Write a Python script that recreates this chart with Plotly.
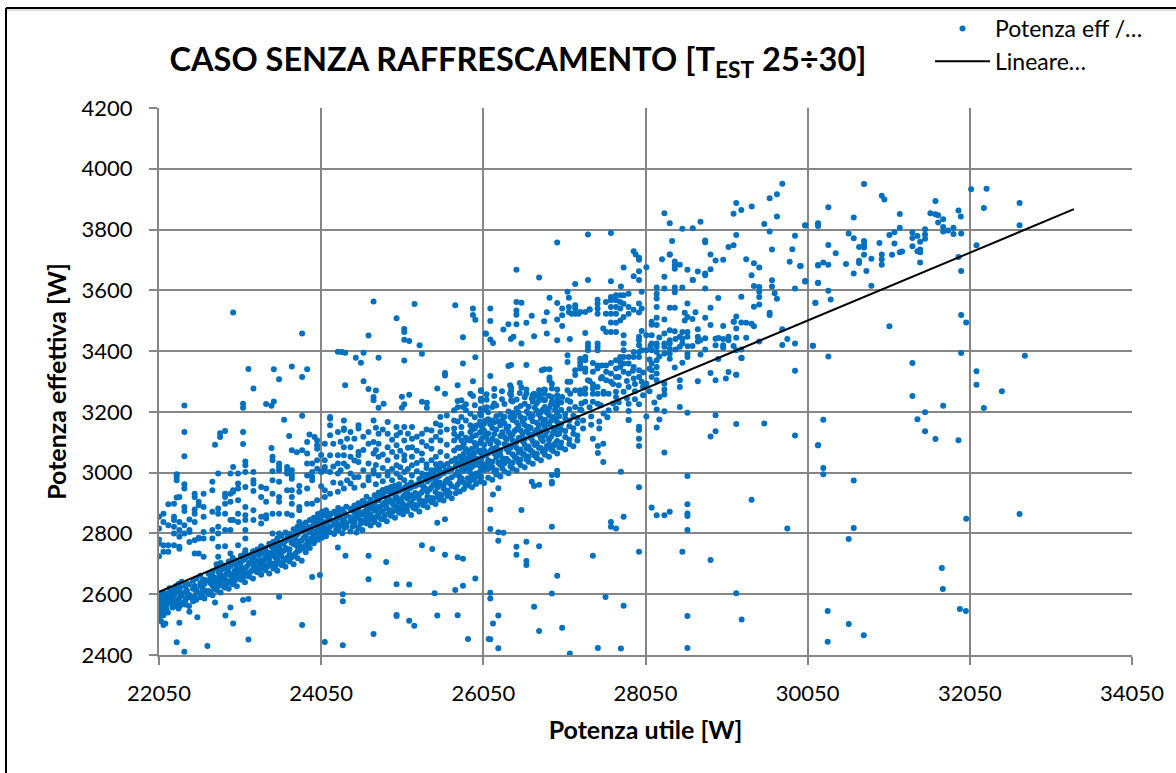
import plotly.graph_objects as go

# Each entry: (Potenza utile [W], [Potenza effettiva [W], ...]).
band_left = [
 (22050,[2525,2540,2552,2565,2578,2590,2602]),(22075,[2512,2550,2574,2590,2597]),(22105,[2535,2568,2581,2606]),
 (22140,[2550,2563,2594]),(22180,[2572,2588,2601,2620]),(22215,[2556,2579,2584,2612]),(22255,[2561,2577,2609,2626]),
 (22290,[2553,2574,2583,2611,2634]),(22330,[2572,2596,2603,2641]),(22375,[2566,2579,2608,2627]),(22420,[2561,2590,2598,2633]),
 (22470,[2577,2585,2618,2644]),(22510,[2582,2606,2613,2652]),(22560,[2590,2603,2628,2637,2661]),(22610,[2586,2612,2634,2648]),
 (22660,[2601,2611,2645,2668]),(22710,[2597,2628,2651,2662,2676]),(22760,[2614,2623,2641,2685,2699]),(22810,[2606,2637,2664,2677,2703]),
 (22860,[2622,2651,2660,2694]),(22910,[2618,2643,2672,2688,2708]),(22960,[2633,2655,2666,2701,2719]),(23010,[2626,2664,2683,2692,2711]),
 (23060,[2648,2659,2691,2706,2727]),(23110,[2639,2671,2684,2715,2736]),(23160,[2658,2669,2702,2724]),(23210,[2652,2682,2697,2718,2741]),
 (23260,[2672,2688,2709,2731,2747]),(23310,[2664,2699,2712,2738,2758]),(23360,[2679,2693,2725,2751]),(23410,[2668,2706,2718,2735,2766]),
 (23460,[2685,2701,2729,2744,2773]),(23510,[2677,2711,2739,2759,2784]),(23560,[2696,2723,2737,2768,2792]),(23610,[2690,2716,2752,2776,2803]),
 (23660,[2708,2733,2748,2781,2798]),(23710,[2699,2727,2765,2789,2814]),(23760,[2718,2741,2757,2797,2822]),(23810,[2710,2755,2778,2806,2829]),
 (23860,[2738,2762,2791,2813,2836]),(23910,[2752,2771,2804,2821,2844]),(23960,[2768,2786,2798,2833,2852]),(24010,[2779,2793,2817,2847,2864]),
 (24060,[2786,2808,2826,2841,2871]),
]
band_mid = [
 (24110,[2791,2815,2835,2858,2876]),(24160,[2804,2823,2844,2861]),(24210,[2798,2829,2839,2871]),(24260,[2810,2818,2852,2867,2884]),
 (24310,[2801,2835,2846,2879]),(24360,[2822,2831,2859,2888]),(24410,[2806,2841,2853,2881]),(24460,[2827,2838,2869,2892]),
 (24510,[2817,2849,2873,2886,2899]),(24560,[2811,2843,2862,2894,2907]),(24610,[2833,2856,2877,2891,2921]),(24660,[2826,2861,2883,2911]),
 (24710,[2838,2851,2875,2902,2926]),(24760,[2829,2866,2887,2909,2935]),(24810,[2847,2871,2896,2923,2943]),(24860,[2840,2883,2899,2917,2948]),
 (24910,[2858,2876,2906,2931,2953]),(24960,[2852,2891,2912,2928,2957]),(25010,[2868,2886,2904,2939,2962]),(25060,[2863,2897,2921,2946]),
 (25110,[2874,2889,2915,2936,2959]),(25160,[2861,2901,2926,2951,2968]),(25210,[2881,2894,2933,2956]),(25260,[2872,2911,2928,2961,2979]),
 (25310,[2893,2906,2942,2955,2988]),(25360,[2886,2921,2937,2971,2994]),(25410,[2903,2917,2952,2983,3001]),(25460,[2897,2936,2961,2975,3009]),
 (25510,[2912,2929,2968,2991,3017]),(25560,[2908,2947,2959,2998,3024]),(25610,[2923,2941,2978,3004,3029]),(25660,[2916,2956,2985,3011,3038]),
 (25710,[2932,2951,2993,3021,3046]),(25760,[2938,2972,2987,3027,3053,3081]),(25810,[2946,2967,3006,3033,3062,3096]),(25860,[2958,2982,3014,3043,3071,3108]),
 (25910,[2952,2991,3019,3051,3079,3117,3141]),(25960,[2963,2997,3026,3047,3087,3123,3155]),(26010,[2971,3003,3035,3066,3098,3132,3168,3194]),
 (26060,[2966,3009,3028,3073,3091,3138,3161,3207]),
]
band_right = [
 (26110,[2983,3012,3041,3064,3106,3129,3176,3199]),(26160,[2977,3019,3036,3079,3112,3147,3172,3216]),(26210,[2994,3008,3049,3083,3103,3142,3186,3221]),
 (26260,[2987,3026,3057,3074,3121,3156,3191]),(26310,[3004,3031,3046,3094,3117,3163,3184,3226]),(26360,[2998,3038,3068,3089,3134,3152,3201]),
 (26410,[3013,3033,3061,3107,3126,3173,3196,3234]),(26460,[3007,3047,3081,3101,3143,3166,3211,3241]),(26510,[3024,3043,3076,3116,3139,3183,3219]),
 (26560,[3018,3058,3092,3111,3157,3178,3227,3248]),(26610,[3036,3053,3086,3128,3151,3194,3217]),(26660,[3029,3067,3103,3124,3169,3188,3233,3256]),
 (26710,[3048,3062,3097,3141,3164,3204,3229]),(26760,[3041,3081,3113,3136,3179,3199,3243]),(26810,[3059,3074,3122,3151,3174,3216,3239,3272]),
 (26860,[3052,3093,3108,3159,3189,3211,3253]),(26910,[3071,3088,3131,3148,3183,3226]),(26960,[3063,3104,3126,3167,3197,3221]),
 (27010,[3083,3099,3142,3161,3206,3231]),(27060,[3076,3117,3137,3178,3193]),(27110,[3094,3109,3153,3172,3209]),(27160,[3087,3128,3146,3187]),
 (27210,[3106,3122,3163,3181]),
]
band_extra = [
 (26035,[3016,3052,3113,3149]),(26085,[3023,3058,3121,3172]),(26135,[3029,3071,3096,3159]),(26185,[3004,3063,3127,3166]),
 (26235,[3033,3069,3098,3168]),(26285,[3014,3042,3133,3173]),(26335,[3046,3078,3109,3147]),(26385,[3021,3082,3118,3183]),
 (26435,[3052,3091,3137,3186]),(26485,[3034,3066,3114,3154,3198]),(26535,[3062,3103,3129,3169]),(26585,[3043,3079,3138,3201]),
 (26635,[3073,3114,3147,3181]),(26685,[3056,3091,3133,3214]),(26735,[3082,3126,3154,3191]),(26785,[3068,3104,3162,3208]),
 (26835,[3088,3136,3159,3197]),(26885,[3077,3118,3171,3224]),(26935,[3096,3142,3176,3208]),(26985,[3084,3128,3152,3186]),
 (25735,[2961,3003,3031]),(25785,[2981,3012,3042]),(25835,[2961,3023,3047]),(25885,[2972,3002,3058]),(25935,[2978,3033,3064]),(25985,[2988,3028,3072]),
 (24085,[2799,2833,2861]),(24285,[2826,2858]),(24485,[2803,2858,2882]),(24685,[2846,2891]),(24885,[2866,2913,2938]),(25085,[2881,2928,2952]),
 (25285,[2899,2934,2966]),(25485,[2921,2952,2987]),(25635,[2933,2965,3012]),(23885,[2757,2778,2818]),(23685,[2722,2769,2792]),
 (23485,[2694,2721,2752]),(23285,[2679,2703,2729]),(23085,[2654,2678,2712]),(22885,[2634,2668,2684]),(22685,[2607,2636,2658]),
]
band_fill = [
 (22090,[2558,2577,2600]),(22160,[2540,2578,2603]),(22235,[2566,2596,2618]),(22310,[2562,2592,2622]),(22395,[2588,2612,2634]),(22490,[2592,2627]),
 (22585,[2596,2618,2643]),(22735,[2618,2636,2654]),(22785,[2628,2654,2672]),(22835,[2628,2648,2684]),(22935,[2640,2662,2694]),(22985,[2645,2678,2708]),
 (23035,[2655,2672,2698]),(23135,[2662,2692,2726]),(23185,[2676,2708,2731]),(23235,[2678,2712,2735]),(23335,[2686,2708,2744]),(23385,[2690,2716,2738]),
 (23435,[2696,2728,2758]),(23535,[2702,2728,2752]),(23585,[2708,2742,2768]),(23635,[2722,2748,2786]),(23735,[2735,2762,2782,2808]),(23785,[2745,2772,2810]),
 (23835,[2752,2786,2818]),(23935,[2785,2812,2846]),(23985,[2782,2806,2838]),(24035,[2798,2828,2856]),(24135,[2806,2842,2866]),(24235,[2812,2835,2862]),
 (24335,[2818,2842,2868]),(24435,[2822,2848,2876]),(24535,[2832,2868,2892]),(24585,[2838,2872,2902]),(24635,[2842,2868,2898]),(24735,[2855,2882,2915]),
 (24785,[2848,2885,2922]),(24835,[2858,2902,2936]),(24935,[2872,2896,2942]),(24985,[2878,2918,2948]),(25035,[2878,2908,2945]),(25135,[2896,2925,2948]),
 (25185,[2885,2915,2958]),(25235,[2892,2922,2962]),(25335,[2905,2948,2982]),(25385,[2912,2945,2978]),(25435,[2915,2962,2992]),(25535,[2925,2958,2998]),
 (25585,[2935,2972,3008]),
]
cloud_fill = [
 (24050,[3058,3002,2955]),(24200,[3095,3020,2968]),(24290,[3102,3008,2965]),(24370,[3112,3020,2975]),(24460,[3112,3040,2985,2950]),
 (24570,[3118,3075,3008,2958]),(24725,[3148,3075,3025,2962]),(24810,[3142,3060,3015,2972]),(24925,[3108,3068,3012,2975]),(25025,[3132,3072,3018,2985]),
 (25120,[3128,3082,3012]),(25230,[3118,3072,3032,3005]),(25350,[3142,3088,3028,3015]),(25465,[3162,3118,3052,3028]),(25600,[3188,3142,3092,3055]),
 (25735,[3215,3168,3118,3082]),(25835,[3205,3172,3115,3078,3225]),(25945,[3222,3182,3145,3098]),(26090,[3240,3215,3258]),(26185,[3228,3252,3275]),
 (26280,[3242,3268]),(26380,[3260,3288]),(26500,[3262,3295]),
 (27260,[3205,3228]),(27360,[3215,3302]),(27500,[3222,3310]),(27650,[3228,3292]),(27720,[3232,3315,3288]),(27820,[3245,3302]),(27920,[3268,3292,3242]),
 (28020,[3282,3330,3255]),(28100,[3372,3342,3268]),(28220,[3382,3445]),(28420,[3405,3440]),
 (27280,[3145,3172]),(27380,[3158,3185]),(27480,[3168,3145]),(27580,[3182]),
]
cloud_left = [
 (22105,[2865,2838,2761,2740]),(22165,[2896,2827,2761,2740]),(22235,[2898,2855,2844,2822,2800,2761]),
 (22268,[2995,2986,2975,2918]),(22301,[2838,2811,2789,2756,2750,2920]),(22363,[2962,2948,2887,2874,2827,2800]),
 (22425,[2846,2811,2805,2772]),(22490,[2931,2920,2879,2865,2838,2778,2734]),(22540,[2904,2893,2783,2786,2734]),
 (22600,[2931,2887,2855,2805,2783,2723]),(22708,[2970,2942,2871,2811,2783]),(22780,[2997,2882,2865,2822,2800,2756,2723]),
 (22865,[2931,2920,2898,2865,2811,2758]),(22931,[2997,2904,2931,2844,2811,2734]),(22964,[3019,2942,2937,2844]),
 (23025,[2997,2964,2948,2909,2865,2838,2761]),(23115,[3037,3024,3002,2953,2887,2860,2844,2811,2783,2745]),
 (23215,[3002,2975,2964,2940,2876,2844]),(23310,[2953,2920,2855,2833]),(23371,[2948,2904,2860,2849]),
 (23450,[3041,3052,3005,2975,2931,2865,2800]),(23531,[3030,3019,3008,2970,2920,2904,2865,2800]),
 (23630,[3019,3008,2997,2942,2865]),(23688,[3008,2991,2980,2942,2920,2898,2860]),(23780,[2956,2937,2887,2876,2838]),
 (23877,[3063,3030,2991,2948,2898]),(23939,[3030,3002,2986,2975,2898]),(24000,[3106,3090,3079,3041,3013,2909]),
]
cloud_mid = [
 (24095,[3095,3041,3019,3008,2942,2920]),(24160,[3178,3156,3183,3123,3057,3002,2931,2865]),(24256,[3134,3057,3030,2997,2937]),
 (24330,[3172,3145,3140,3084,3057,3030,2948]),(24412,[3134,3084,3052,2997,2964]),(24510,[3156,3145,3068,3057,3035,2986]),
 (24634,[3134,3095,3030,2986,2975]),(24696,[3172,3101,3063,3008,2997]),(24758,[3128,3095,3052,2991]),
 (24870,[3167,3128,3084,3041,3002,2991]),(24980,[3150,3123,3090,3052,3024,2997]),(25075,[3150,3106,3057,3041,3002,2975]),
 (25170,[3150,3112,3084,3052,3024,2991]),(25293,[3128,3101,3063,3041,2997]),(25410,[3139,3106,3079,3041,3008]),
 (25520,[3183,3156,3134,3106,3068,3030,3002]),(25690,[3205,3172,3145,3128,3106,3073,3041]),
 (25780,[3238,3183,3150,3128,3106,3084,3052]),(25890,[3260,3194,3156,3134,3106,3057,3030]),
 (26020,[3271,3243,3210,3189,3156,3134,3106,3073,3046,3019,2986]),
]
upper_mid = [
 (26392,[3354]),(26581,[3354]),(26359,[3351]),(26136,[3318]),(26771,[3337]),(26804,[3340]),(26866,[3340,3313,3304]),
 (26895,[3293,3277,3249,3233]),(26520,[3280]),(26392,[3280,3269,3255,3238]),(26581,[3274,3260]),(26647,[3244]),
 (26676,[3260,3249]),(26738,[3271,3255,3238]),(26800,[3274,3260,3238]),(26961,[3274,3255,3238]),(27022,[3249]),
 (27088,[3299,3271,3238,3386,3364]),(27122,[3299,3260,3233]),(27183,[3271,3216,3337,3321]),(27245,[3271,3260,3208,3375,3364,3353,3343]),
 (27307,[3277,3260,3233,3381,3370,3343,3332]),(27340,[3425,3414,3403,3304]),(27401,[3291,3277,3260,3233,3361,3332]),
 (27459,[3282,3260,3227,3425,3414,3403,3353,3343]),(27513,[3353,3315]),(27533,[3266,3260,3195]),(27565,[3353,3332,3304]),
 (27595,[3260,3205]),(27624,[3361,3326,3299]),(27686,[3266,3249,3211,3370,3343,3315]),(27739,[3381,3364,3348]),
 (27780,[3266,3452,3425,3403,3381,3359,3332]),(27842,[3282,3381,3359,3326,3173,3203,3227]),(27904,[3397,3381,3348,3310]),
 (27970,[3447,3436,3419,3397,3381,3337,3315,3225]),(28003,[3466,3403,3299]),(28061,[3452,3403,3293,3185]),
 (28126,[3452,3425,3403,3359,3337,3315,3497,3487,2885]),(28188,[3425,3414,3397,3370,3348,3326,3304,3510,3486,3609,3589,3573,3545]),
 (28283,[3425,3414,3392,3504,3606,3458,3645,3854,3257,3274,3293,3202]),(28349,[3436,3425,3408,3392,3375,3469,3543,3718,3821]),
]
cluster_3500 = [
 (27105,[3576,3545,3529]),(27138,[3523]),(27183,[3551,3540,3523,3621]),(27224,[3523]),(27245,[3529]),(27307,[3529,3460]),
 (27361,[3536,3538]),(27459,[3569,3556,3540,3523]),(27562,[3562,3523]),(27624,[3578,3567,3545,3523,3494,3463,3630]),
 (27686,[3584,3567,3545,3523,3493,3463]),(27739,[3584,3562,3540,3501]),(27780,[3584,3556,3512,3675]),
 (27842,[3589,3545,3523]),(27904,[3536,3646,3729]),(27970,[3557,3527,3634,3663,3707,3701]),(28003,[3540,3595]),
 (27929,[3718]),(28061,[3676]),(27747,[3613]),(27340,[3634,3784]),(27088,[3595]),(27529,[3474]),(27565,[3463]),
]
upper_left = [
 (22363,[3221,3134,3054]),(22964,[3527]),(23815,[3458,3315,3187,3074]),(23153,[3341]),(23466,[3340,3234]),(23688,[3349,3074]),
 (23877,[3340,3101]),(23531,[3307]),(23215,[3277]),(23087,[3227,3214,3134,3094]),(23371,[3226]),(23437,[3220,3081]),
 (23593,[3174]),(22803,[3130,3117]),(22865,[3137]),(22741,[3092]),(23655,[3121]),(23750,[3067]),(23906,[3126]),(23968,[3117]),
 (24256,[3398]),(24305,[3397]),(24346,[3395,3288]),(24573,[3395,3301]),(24478,[3378]),(24540,[3362]),(24758,[3378]),
 (25075,[3369,3473,3463,3437]),(24980,[3508]),(25136,[3433]),(25264,[3419]),(25293,[3391]),(24634,[3451,3275]),(24696,[3563,3249,3238]),
 (25202,[3555]),(25704,[3551]),(25922,[3540,3519]),(25951,[3503,3380]),(25799,[3446,3359]),(26083,[3457]),(25577,[3328,3320]),
 (24725,[3270]),(24758,[3214]),(24820,[3227]),(25046,[3250]),(25136,[3256]),(25046,[3214]),(25075,[3225]),
 (25293,[3233]),(25354,[3230,3214]),(25482,[3277]),(25577,[3260]),(25733,[3288,3236]),(25799,[3216]),(25922,[3301,3252]),
 (26020,[3269,3237]),(26136,[3540,3499]),(26075,[3458]),(26136,[3438]),(26169,[3427]),(26297,[3471]),(26359,[3488]),(26458,[3488,3562,3534,3520,3668]),
 (26581,[3493]),(26647,[3516]),(26800,[3498]),(26520,[3559,3425]),(26866,[3576]),(26961,[3558,3504,3436,3757]),(26833,[3528,3458]),
 (27022,[3518,3540,3483]),(26676,[3449]),(26421,[3447]),(26388,[3440]),(27117,[3440]),(26738,[3642]),(27624,[3789]),
]
upper_right = [
 (28505,[3803,3609]),(28633,[3804,3634]),(28728,[3826]),(29169,[3887,3782,3514,3474,3444,3403,3322]),(29136,[3852,3748,3497,3417]),
 (29232,[3864,3494,3579,3405,3377]),(29360,[3876]),(29581,[3903,3794,3526,3519]),(29671,[3916,3843,3572]),(29737,[3951,3472,3420]),
 (29515,[3818]),(30018,[3814,3630]),(30178,[3818,3683,3625]),(29894,[3780,3606,3425,3335,3122]),(28378,[3762]),(28786,[3764,3758,3655,3650,3606,3510,3442,3405]),
 (29074,[3743,3447,3436,3331]),(29610,[3734,3633,3613]),(29861,[3735]),(28349,[3718]),(28852,[3718,3669,3543,3486]),
 (28254,[3702]),(28914,[3698,3441,3419,3304,3189,3136]),(29008,[3701,3483,3440,3419,3411]),(29292,[3702,3493,3444]),(29387,[3689,3614,3546,3482]),
 (29453,[3675,3611,3595,3578,3553,3432]),(29828,[3694]),(29956,[3680]),(28411,[3695,3682,3671,3609,3594,3543,3465,3346]),(28473,[3684,3447,3414,3304,3282]),
 (28567,[3668,3557,3512,3463,3447,3381,3392]),(28695,[3662,3472,3447,3432,3301]),(29358,[3650,3490,2911]),(28633,[3634]),(30018,[3630]),
 (29643,[3590]),(28947,[3575,3374]),(30145,[3559]),(28666,[3528]),(28534,[3526,3501]),(28629,[3506,3417]),(29041,[3310]),(29140,[3497]),
 (29799,[3440,2816]),(28112,[3418]),(28505,[3463,3441,3425,3362]),(28728,[3436,3389]),(28950,[3443]),(28571,[3416]),(28852,[3328]),
 (30112,[3418]),(29236,[3377]),(29169,[3322]),
]
far_right = [
 (30745,[3950,3762,3751,3741,3717]),(30964,[3911,3718,3702,3684]),(30996,[3899]),(30305,[3873,3749,3684,3599,3382]),(31626,[3894,3850,3111]),
 (31186,[3851,3806,3725]),(30618,[3840,3771,3655,2974,2818]),(31564,[3854]),(31659,[3847,3823]),(31721,[3834,3808,3794,3220]),
 (31910,[3863,3710,3107]),(31939,[3843]),(32066,[3933]),(32256,[3934]),(32223,[3871,3213]),(32663,[3887,3814,2864]),
 (30021,[3813,3629]),(30178,[3821,3812,3682,3624,3090]),(30556,[3787,2782]),(31058,[3782,3482]),(31120,[3791,3754]),(31342,[3790,3772,3745,3361,3252]),
 (31404,[3779,3729,3176]),(31437,[3760,3734,3725,3692]),(31498,[3801,3784,3770,3199,3136]),(31782,[3797]),(31848,[3806,3785]),(31943,[3787,3664,3519,3394]),
 (30684,[3743,3697,3690]),(30935,[3756]),(30396,[3722]),(32132,[3748,3334,3289]),(31215,[3728]),(31091,[3717]),(30836,[3704,3615]),(30523,[3687]),
 (30243,[3692,3174,3015,2995]),(29964,[3680]),(30774,[3664]),(30334,[3570]),(30145,[3558]),(32005,[3494,2848]),(30116,[3418]),(32729,[3385]),
 (32445,[3268]),(30297,[2545,2444]),(30557,[2502]),(30742,[2465]),(31705,[2686]),(31717,[2617]),(31927,[2551]),(32001,[2545]),
]
lower_left = [
 (22050,[2725,2767,2780,2816,2855]),(22301,[2506]),(22268,[2442]),(22363,[2411]),(22647,[2430]),(23153,[2451,2584]),(24095,[2443]),
 (24317,[2432,2600,2577]),(24696,[2469]),(25861,[2453]),(26116,[2453]),(23815,[2499]),(25198,[2496]),(25136,[2513,2632]),
 (24980,[2528,2532,2633]),(25482,[2530,2835]),(25733,[2531,2722]),(22964,[2504]),(22869,[2530]),(23215,[2539]),(22931,[2556]),
 (22523,[2524]),(22425,[2542]),(22741,[2573]),(23087,[2581]),(23531,[2592]),(25449,[2603]),(25704,[2614]),(25799,[2628,2717]),
 (25951,[2652]),(24634,[2649,2727]),(23939,[2657]),(24034,[2663]),(24852,[2706]),(24350,[2727]),(24256,[2754]),(25293,[2761]),
 (25420,[2749]),(25577,[2730,2847]),(22105,[2499,2531]),(22128,[2504]),
]
lower_right = [
 (26235,[2422,2530,2776,2804,2949]),(26136,[2452,2605,2586,2815,2879]),(26169,[2504,2928]),(26676,[2559,2956]),(26738,[2479,2758,2960]),
 (27022,[2490]),(26895,[2602,2822,2970,2964,2992]),(27117,[2405]),(27463,[2423,3088,3065]),(27747,[2421,3003]),(27557,[2591]),(27780,[2562,2855]),
 (28567,[2528,2423,2896,2866,2857,2811,2989,3197]),(29169,[2603,3160]),(29236,[2517]),(27970,[2740,3088,3112,3140,3151,2952]),(28505,[2740]),
 (28852,[2713,3119]),(27401,[2727,3112]),(26961,[2661,2992,3006]),(26581,[2709,2696,2773]),(26458,[2756,2730]),(26297,[2802]),
 (27624,[2838,2822]),(27686,[2816]),(28188,[2860,3149,3208]),(28283,[2860,3066]),(28349,[2871]),(26520,[2877]),(26647,[2970]),(27529,[3035,3095]),
 (28221,[3175,3249]),(28473,[3216]),(28159,[3231]),(27842,[3173]),(29515,[3162]),(30178,[3090]),(27894,[3335]),
]

line_x = [22050, 33334]
line_y = [2608, 3867]
x_ticks = [22050, 24050, 26050, 28050, 30050, 32050, 34050]
y_ticks = [2400, 2600, 2800, 3000, 3200, 3400, 3600, 3800, 4000, 4200]

groups = [band_left, band_mid, band_right, band_extra, band_fill, cloud_fill, cloud_left, cloud_mid, upper_mid, cluster_3500,
          upper_left, upper_right, far_right, lower_left, lower_right]
xs, ys = [], []
for group in groups:
    for x, col in group:
        for y in col:
            xs.append(x)
            ys.append(y)

FONT = "Lato"
GRID = "#868686"
fig = go.Figure()
fig.add_trace(go.Scatter(x=xs, y=ys, mode="markers", name="Potenza eff /…",
                         marker=dict(color="#0070C0", size=6, line=dict(width=0))))
fig.add_trace(go.Scatter(x=line_x, y=line_y, mode="lines", name="Lineare…",
                         line=dict(color="black", width=2)))
axis = dict(showline=True, linecolor=GRID, linewidth=2, gridcolor=GRID, gridwidth=2, ticks="outside",
            ticklen=8, tickwidth=2, tickcolor=GRID, tickfont=dict(family=FONT, size=22, color="black"), zeroline=False)
fig.update_xaxes(range=[22050, 34050], tickvals=x_ticks, ticktext=[str(v) for v in x_ticks], ticklabelstandoff=10,
                 title=dict(text="<b>Potenza utile [W]</b>", font=dict(family=FONT, size=25, color="black"), standoff=16), **axis)
fig.update_yaxes(range=[2400, 4200], tickvals=y_ticks, ticktext=[str(v) for v in y_ticks], ticklabelstandoff=12,
                 title=dict(text="<b>Potenza effettiva [W]</b>", font=dict(family=FONT, size=25, color="black"), standoff=8), **axis)
fig.update_layout(
    width=1176, height=773, autosize=False, paper_bgcolor="white", plot_bgcolor="white",
    margin=dict(l=159, r=44, t=108, b=118, pad=0, autoexpand=False),
    font=dict(family=FONT, color="black"),
    title=dict(text="<b>CASO SENZA RAFFRESCAMENTO [T<sub>EST</sub> 25÷30]</b>", x=518/1176, xanchor="center",
               y=1-60/773, yanchor="middle", font=dict(family=FONT, size=32.5, color="black")),
    legend=dict(x=930/1176, y=1-7/773, xref="container", yref="container", xanchor="left", yanchor="top",
                font=dict(family=FONT, size=23, color="black"), itemwidth=55, bgcolor="rgba(0,0,0,0)", tracegroupgap=0),
    shapes=[
        dict(type="line", xref="paper", yref="paper", x0=-153/973, x1=1+44/973, y0=1+98/547, y1=1+98/547, line=dict(color="#BFBFBF", width=1)),
        dict(type="line", xref="paper", yref="paper", x0=-153/973, x1=1+44/973, y0=1+100/547, y1=1+100/547, line=dict(color="black", width=2)),
        dict(type="line", xref="paper", yref="paper", x0=-153/973, x1=-153/973, y0=-118/547, y1=1+100/547, line=dict(color="black", width=2)),
    ],
)
fig.write_html("out.html", config={"displayModeBar": False}, post_script="document.body.style.margin='0';")
